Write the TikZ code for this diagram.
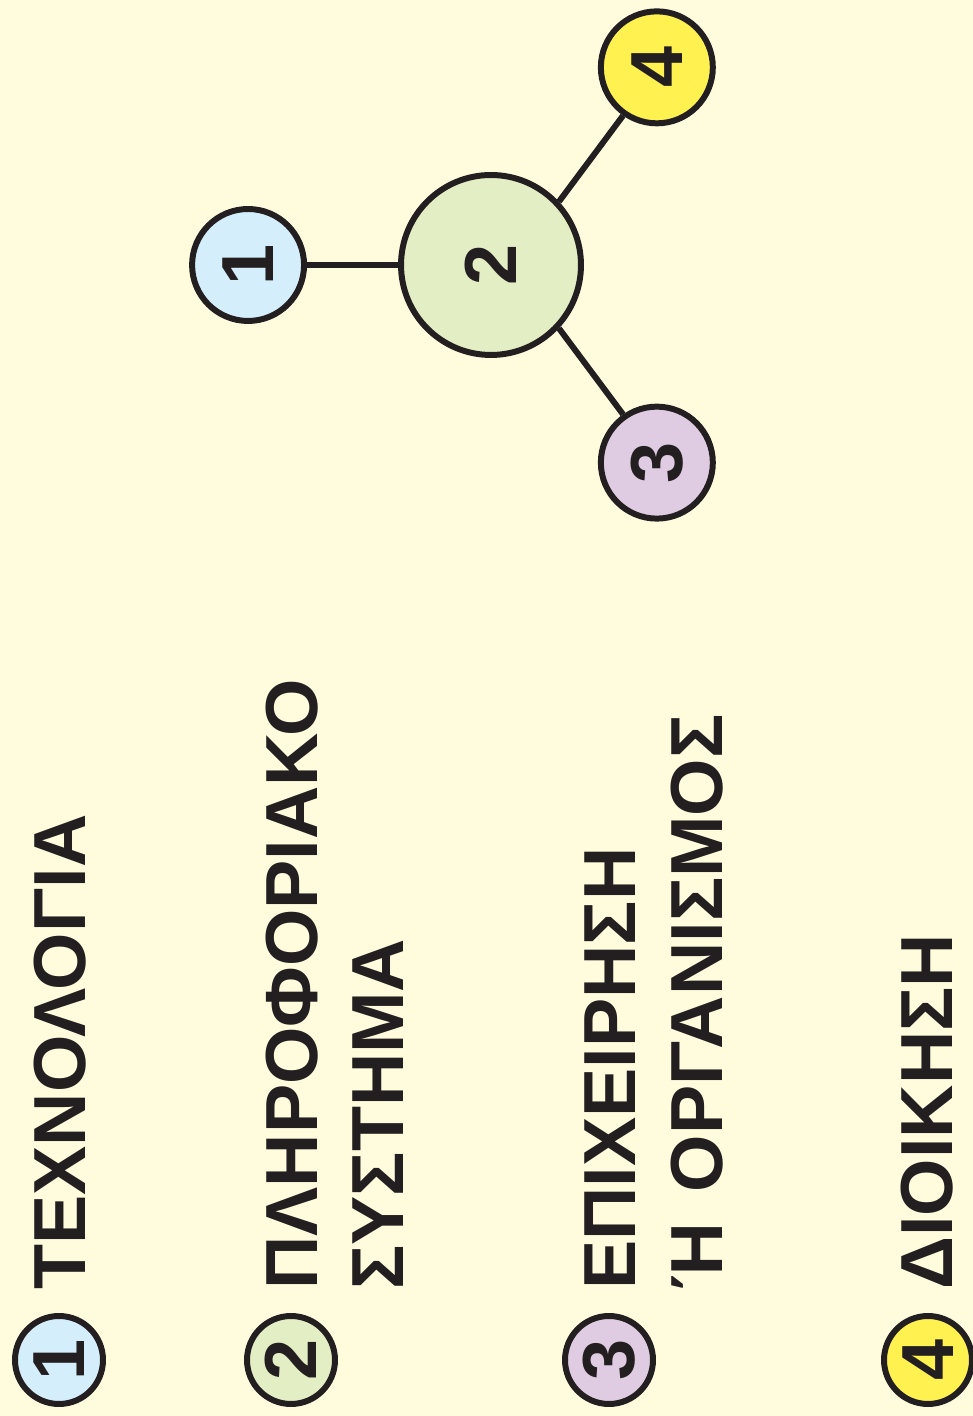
\documentclass[tikz,border=0pt]{standalone}
\usepackage{fontspec}
\setmainfont{Liberation Sans}
\usetikzlibrary{positioning,calc}

\definecolor{paper}{RGB}{255,252,222}
\definecolor{ink}{RGB}{35,31,32}
\definecolor{techblue}{RGB}{213,238,251}
\definecolor{infogreen}{RGB}{228,238,196}
\definecolor{orgpurple}{RGB}{223,204,226}
\definecolor{mgmtyellow}{RGB}{255,242,80}
\newcommand{\bigbold}{\fontsize{42}{49}\selectfont\bfseries}
\newcommand{\upright}[1]{\rotatebox{90}{#1}}

\begin{document}
\begin{tikzpicture}[x=0.02cm, y=0.02cm, auto,
    hub/.style={circle, draw=ink, line width=3.4pt, inner sep=0pt, minimum size=3.6cm, font=\bigbold, text=ink},
    spoke/.style={circle, draw=ink, line width=3.4pt, inner sep=0pt, minimum size=2.24cm, font=\bigbold, text=ink},
    key/.style={circle, draw=ink, line width=3.4pt, inner sep=0pt, minimum size=1.76cm, font=\bigbold, text=ink},
    caption/.style={rotate=90, anchor=base west, inner sep=0pt, font=\bigbold, text=ink},
    line/.style={draw=ink, line width=3.4pt}]

    \fill [paper] (0,0) rectangle (973,1416);
    \useasboundingbox (0,0) rectangle (973,1416);

    % Top - the four parts round the information system
    \node [hub, fill=infogreen] (c2) at (491,1151) {\upright{2}};
    \node [spoke, fill=techblue, left=1.82cm of c2] (c1) {\upright{1}};
    \node [spoke, fill=mgmtyellow] (c4) at ($(c2)+(50:258)$) {\upright{4}};
    \node [spoke, fill=orgpurple] (c3) at ($(c2)+(-50:258)$) {\upright{3}};

    \path [line] (c2) -- (c1);
    \path [line] (c2.43) -- (c4.235);
    \path [line] (c2.-43) -- (c3.125);

    % Bottom - legend
    \node [key, fill=techblue] (k1) at (59,56) {\upright{1}};
    \node [key, fill=infogreen] (k2) at (291,56) {\upright{2}};
    \node [key, fill=orgpurple] (k3) at (609,56) {\upright{3}};
    \node [key, fill=mgmtyellow] (k4) at (928,56) {\upright{4}};

    \node [caption] (t1) at (85,126) {ΤΕΧΝΟΛΟΓΙΑ};
    \node [caption] (t2) at (317,126) {ΠΛΗΡΟΦΟΡΙΑΚΟ};
    \node [caption] (t2b) at ($(t2.base west)+(86,0)$) {ΣΥΣΤΗΜΑ};
    \node [caption] (t3) at (635,126) {ΕΠΙΧΕΙΡΗΣΗ};
    \node [caption] (t3b) at ($(t3.base west)+(87,0)$) {Ή \kern0.14em ΟΡΓΑΝΙΣΜΟΣ};
    \node [caption] (t4) at (952,126) {ΔΙΟΙΚΗΣΗ};
\end{tikzpicture}
\end{document}
